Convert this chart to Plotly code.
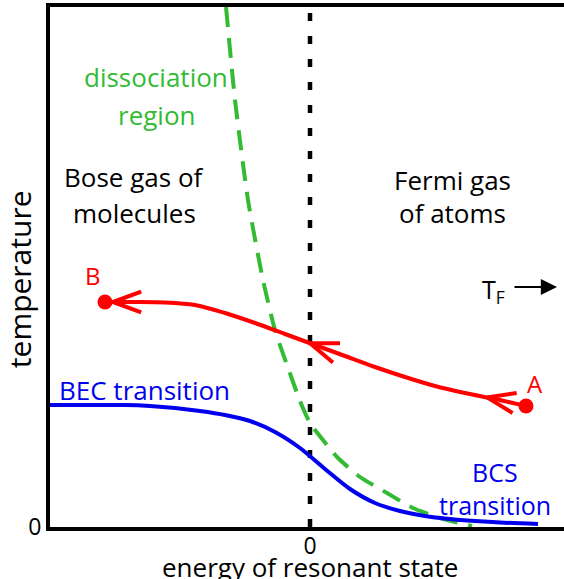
import numpy as np
import plotly.graph_objects as go

# ---- data (energy, temperature in arbitrary units) ----
red_x = [-2.05, -1.75, -1.45, -1.15, -0.85, -0.55, -0.25, 0.05, 0.35, 0.65, 0.95, 1.25, 1.55, 1.85, 2.16]
red_y = [2.25, 2.25, 2.245, 2.22, 2.14, 2.04, 1.93, 1.82, 1.71, 1.60, 1.50, 1.41, 1.34, 1.28, 1.21]

bec_x = [-2.60, -2.35, -2.10, -1.85, -1.60, -1.35, -1.10, -0.85, -0.60, -0.35, -0.10, 0.15, 0.40, 0.65, 0.90, 1.15, 1.40, 1.65, 1.90, 2.28]
bec_y = [1.22, 1.22, 1.22, 1.22, 1.21, 1.19, 1.16, 1.12, 1.06, 0.95, 0.79, 0.58, 0.38, 0.24, 0.16, 0.11, 0.08, 0.06, 0.045, 0.03]

dis_x = [-0.84, -0.75, -0.62, -0.47, -0.35, -0.23, -0.10, 0.00, 0.13, 0.27, 0.50, 0.77, 1.03, 1.30, 1.62]
dis_y = [5.20, 4.27, 3.27, 2.47, 1.97, 1.62, 1.26, 1.04, 0.87, 0.70, 0.50, 0.34, 0.19, 0.09, 0.01]

arrow_tips_x = [-1.97, 0.00, 1.77]   # where the path's chevrons sit
resonance_x = [0.0]
x_range = [-2.60, 2.54]
y_range = [0.0, 5.2]

RED = "#ff0000"
BLUE = "#0000ee"
GREEN = "#33bb33"
FONT = "Open Sans"

fig = go.Figure()

# vertical dotted line at resonance
fig.add_trace(go.Scatter(x=resonance_x * 2, y=y_range, mode="lines",
                         line=dict(color="black", width=4.5, dash="8px,15px"),
                         hoverinfo="skip", showlegend=False))

# dissociation (green dashed)
fig.add_trace(go.Scatter(x=dis_x, y=dis_y, mode="lines",
                         line=dict(color=GREEN, width=4, dash="20px,11px", shape="spline", smoothing=0.6),
                         showlegend=False))

# BEC/BCS transition (blue)
fig.add_trace(go.Scatter(x=bec_x, y=bec_y, mode="lines",
                         line=dict(color=BLUE, width=4, shape="spline", smoothing=0.8),
                         showlegend=False))

# red path A -> B
fig.add_trace(go.Scatter(x=red_x, y=red_y, mode="lines",
                         line=dict(color=RED, width=4, shape="spline", smoothing=0.8),
                         showlegend=False))

# chevrons along the red path (oriented along the local tangent)
L = 0.30
half = np.deg2rad(20)
cx, cy = [], []
rx = np.array(red_x); ry = np.array(red_y)
for tx in arrow_tips_x:
    ty = float(np.interp(tx, rx, ry))
    dx = 0.1
    y2 = float(np.interp(min(tx + dx, rx[-1]), rx, ry))
    y1 = float(np.interp(max(tx - dx, rx[0]), rx, ry))
    ang = np.arctan2(y2 - y1, 2 * dx)   # direction toward +x along curve
    for s in (1, -1):
        a = ang + s * half
        cx += [tx, tx + L * np.cos(a), None]
        cy += [ty, ty + L * np.sin(a), None]
fig.add_trace(go.Scatter(x=cx, y=cy, mode="lines", line=dict(color=RED, width=4),
                         showlegend=False, hoverinfo="skip"))

# end points A and B
fig.add_trace(go.Scatter(x=[red_x[0], red_x[-1]], y=[red_y[0], red_y[-1]], mode="markers",
                         marker=dict(color=RED, size=15), showlegend=False))

def txt(x, y, s, color="black", size=26, **kw):
    fig.add_annotation(x=x, y=y, text=s, showarrow=False,
                       font=dict(family=FONT, size=size, color=color), **kw)

txt(-1.54, 4.50, "dissociation", GREEN)
txt(-1.53, 4.12, "region", GREEN)
txt(-1.76, 3.50, "Bose gas of")
txt(-1.76, 3.14, "molecules")
txt(1.42, 3.47, "Fermi gas")
txt(1.42, 3.14, "of atoms")
txt(-2.17, 2.52, "B", RED, 24)
txt(2.25, 1.44, "A", RED, 24)
txt(-1.66, 1.37, "BEC transition", BLUE, 26)
txt(1.85, 0.55, "BCS", BLUE, 25)
txt(1.85, 0.22, "transition", BLUE, 25)
txt(1.83, 2.37, "T<sub>F</sub>", "black", 25)
fig.add_annotation(x=2.47, y=2.40, ax=2.03, ay=2.40, xref="x", yref="y", axref="x", ayref="y",
                   text="", showarrow=True, arrowhead=2, arrowsize=1.8, arrowwidth=1.8, arrowcolor="black")

# axis titles
fig.add_annotation(xref="x", yref="paper", x=0.0, y=-0.077, text="energy of resonant state", showarrow=False,
                   font=dict(family=FONT, size=26, color="black"), yanchor="middle", xanchor="center")
fig.add_annotation(xref="paper", yref="y", x=-0.06, y=2.48, text="temperature", textangle=-90,
                   showarrow=False, xanchor="center", yanchor="middle",
                   font=dict(family=FONT, size=30, color="black"))

fig.update_layout(
    width=564, height=579,
    margin=dict(l=50, r=0, t=7, b=52),
    paper_bgcolor="white", plot_bgcolor="white",
    xaxis=dict(range=x_range, showgrid=False, zeroline=False, showline=True, mirror=True,
               linecolor="black", linewidth=4, tickvals=[0], ticktext=["0"], ticks="",
               automargin=False,
               tickfont=dict(family=FONT, size=23, color="black"), ticklabelstandoff=-5),
    yaxis=dict(range=y_range, showgrid=False, zeroline=False, showline=True, mirror=False,
               linecolor="black", linewidth=4, tickvals=[0], ticktext=["0"], ticks="",
               automargin=False,
               tickfont=dict(family=FONT, size=23, color="black"), ticklabelstandoff=0),
)
fig.write_html("out.html", post_script="document.body.style.margin='0';",
               config={"displayModeBar": False})
